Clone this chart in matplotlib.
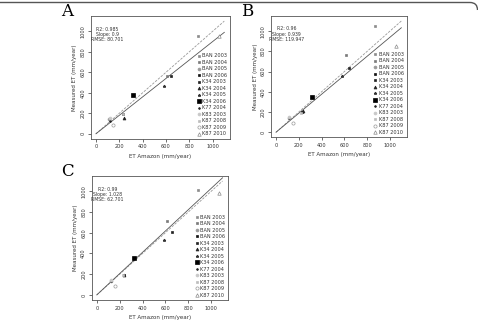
import matplotlib
matplotlib.use('Agg')
import matplotlib.pyplot as plt
from matplotlib.path import Path
from matplotlib.patches import PathPatch

labels = ['BAN 2003', 'BAN 2004', 'BAN 2005', 'BAN 2006',
          'K34 2003', 'K34 2004', 'K34 2005', 'K34 2006',
          'K77 2004', 'K83 2003', 'K87 2008', 'K87 2009', 'K87 2010']

# ET Amazon (x) and measured ET (y), mm/year, per panel
x_a = [871, 611, 114, 231, 643, 243, 580, 320, 120, 117, 228, 149, 1052]
y_a = [955, 567, 145, 190, 560, 157, 465, 377, 123, 150, 195, 90, 950]
x_b = [872, 614, 116, 232, 640, 238, 580, 316, 118, 113, 222, 145, 1049]
y_b = [1052, 763, 143, 201, 633, 211, 555, 351, 138, 148, 195, 88, 854]
x_c = [888, 618, 124, 241, 655, 236, 589, 325, 120, 126, 231, 155, 1069]
y_c = [1016, 712, 131, 192, 612, 193, 529, 356, 138, 140, 196, 83, 987]

stats_a = ['R2: 0.985', 'Slope: 0.9', 'RMSE: 80.701']
stats_b = ['R2: 0.96', 'Slope: 0.939', 'RMSE: 119.947']
stats_c = ['R2: 0.99', 'Slope: 1.028', 'RMSE: 62.701']
slopes = [0.9, 0.939, 1.028]

# marker, face colour, edge colour, size
styles = [('s', '#8c8c8c', '#8c8c8c', 2.1),
          ('s', '#7a7a7a', '#7a7a7a', 2.1),
          ('o', '#9a9a9a', '#9a9a9a', 2.1),
          ('s', '#111111', '#111111', 2.1),
          ('s', '#222222', '#222222', 1.8),
          ('^', '#222222', '#222222', 2.1),
          ('*', '#333333', '#333333', 2.1),
          ('s', '#000000', '#000000', 2.3),
          ('.', '#222222', '#222222', 2.5),
          ('o', '#c8c8c8', '#c8c8c8', 2.1),
          ('s', '#bdbdbd', '#bdbdbd', 2.1),
          ('o', 'white', '#9a9a9a', 2.3),
          ('^', 'white', '#8a8a8a', 2.5)]

fig = plt.figure(figsize=(4.78, 3.23), dpi=100)

# top frame line with rounded right corner (inches)
verts = [(0, 3.205), (4.70, 3.205), (4.775, 3.205), (4.775, 3.13)]
codes = [Path.MOVETO, Path.LINETO, Path.CURVE3, Path.CURVE3]
fig.patches.append(PathPatch(Path(verts, codes), transform=fig.dpi_scale_trans,
                             fill=False, edgecolor='#555555', linewidth=1.0))

panels = [
    ('A', [0.190, 0.570, 0.291, 0.380], x_a, y_a, stats_a, slopes[0]),
    ('B', [0.567, 0.575, 0.284, 0.375], x_b, y_b, stats_b, slopes[1]),
    ('C', [0.192, 0.071, 0.285, 0.384], x_c, y_c, stats_c, slopes[2]),
]

for letter, rect, xs, ys, stats, slope in panels:
    ax = fig.add_axes(rect)
    ax.plot([0, 1100], [0, 1100], color='#999999', lw=0.6, ls=(0, (3, 1.5)))
    ax.plot([0, 1100], [0, 1100 * slope], color='#555555', lw=0.6)
    for i, lab in enumerate(labels):
        m, fc, ec, ms = styles[i]
        ax.plot(xs[i], ys[i], ls='none', marker=m, markerfacecolor=fc,
                markeredgecolor=ec, markersize=ms, markeredgewidth=0.5,
                label=lab)
    ax.set_xlim(-44, 1148)
    ax.set_ylim(-50, 1148)
    ax.set_xticks([0, 200, 400, 600, 800, 1000])
    ax.set_yticks([0, 200, 400, 600, 800, 1000])
    ax.tick_params(length=2.5, width=0.5, labelsize=3.6, pad=1.5,
                   colors='#333333')
    for t in ax.get_yticklabels():
        t.set_rotation(90)
        t.set_va('center')
    for s in ax.spines.values():
        s.set_linewidth(0.6)
        s.set_color('#555555')
    ax.set_xlabel('ET Amazon (mm/year)', fontsize=4.0, labelpad=3,
                  color='#333333')
    ax.set_ylabel('Measured ET (mm/year)', fontsize=4.0, labelpad=2,
                  color='#333333')
    ax.text(95, 970, '\n'.join(stats), fontsize=3.3, ha='center', va='center',
            multialignment='center', linespacing=1.05, color='#333333')
    ax.legend(loc='lower right', frameon=False, fontsize=3.6,
              handlelength=0.5, handletextpad=0.5, labelspacing=0.3,
              borderaxespad=0.3, borderpad=0.2, labelcolor='#333333')
    fig.text(rect[0] - 0.05, rect[1] + rect[3] + 0.015, letter,
             fontsize=12, family='DejaVu Serif', ha='center', va='center')

fig.savefig('out.png', dpi=100)
